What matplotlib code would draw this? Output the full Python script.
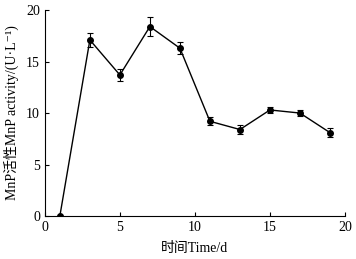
import matplotlib
matplotlib.use("Agg")
import matplotlib.pyplot as plt

days = [1, 3, 5, 7, 9, 11, 13, 15, 17, 19]
activity = [0.0, 17.1, 13.7, 18.4, 16.3, 9.2, 8.4, 10.3, 10.0, 8.1]
errors = [0.0, 0.7, 0.6, 0.9, 0.6, 0.4, 0.4, 0.3, 0.3, 0.4]
xticks = [0, 5, 10, 15, 20]
yticks = [0, 5, 10, 15, 20]

plt.rcParams['font.family'] = ['Liberation Serif', 'Noto Sans CJK SC', 'DejaVu Sans']

fig = plt.figure(figsize=(3.56, 2.59), dpi=100)
ax = fig.add_axes([0.126, 0.166, 0.843, 0.795])
ax.errorbar(days, activity, yerr=errors, color='black', lw=1.0, marker='o',
            markersize=4, capsize=2.5, elinewidth=0.8, capthick=0.8)
ax.set_xlim(0, 20)
ax.set_ylim(0, 20)
ax.set_xticks(xticks)
ax.set_yticks(yticks)
ax.spines['top'].set_visible(False)
ax.spines['right'].set_visible(False)
ax.tick_params(direction='in', length=3, labelsize=10, width=0.8)
ax.set_xlabel('时间Time/d', fontsize=10, labelpad=6)
ax.set_ylabel('MnP活性MnP activity/(U·L⁻¹)', fontsize=10, labelpad=5)
fig.savefig('out.png', dpi=100)
